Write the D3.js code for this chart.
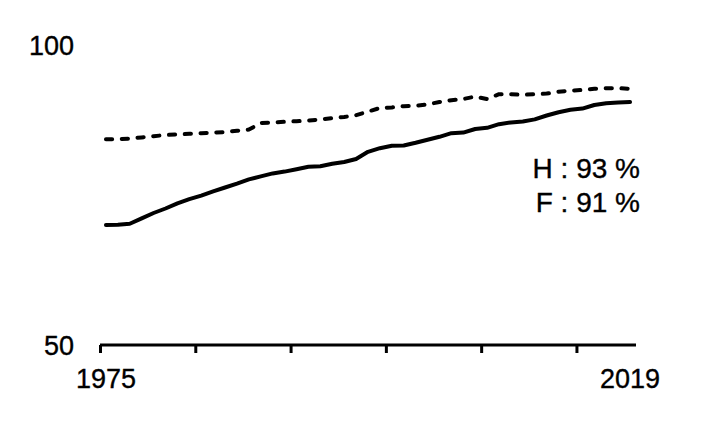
<!DOCTYPE html>
<html>
<head>
<meta charset="utf-8">
<script src="https://cdn.jsdelivr.net/npm/d3@7"></script>
<style>
  html, body { margin: 0; padding: 0; background: #fff; }
  svg { display: block; }
  text { font-family: "Liberation Sans", Arial, sans-serif; fill: #000; stroke: #000; stroke-width: 0.35px; }
</style>
</head>
<body>
<svg id="chart" width="708" height="423"></svg>
<script>
const years = d3.range(1975, 2020);
// H (hommes) - dashed
const menValues = [84.3, 84.3, 84.4, 84.6, 84.8, 85.0, 85.1, 85.2, 85.3, 85.4,
  85.5, 85.7, 85.9, 87.0, 87.1, 87.2, 87.3, 87.4, 87.6, 87.8,
  88.0, 88.3, 88.9, 89.5, 89.6, 89.8, 89.85, 90.1, 90.5, 90.8,
  91.0, 91.4, 91.0, 91.8, 91.8, 91.7, 91.8, 91.9, 92.2, 92.4,
  92.5, 92.7, 92.8, 92.8, 92.7];
// F (femmes) - solid
const womenValues = [70.0, 70.05, 70.2, 71.1, 72.0, 72.75, 73.6, 74.3, 74.9, 75.6,
  76.25, 76.9, 77.6, 78.1, 78.6, 78.9, 79.3, 79.7, 79.8, 80.2,
  80.5, 81.0, 82.2, 82.8, 83.2, 83.25, 83.7, 84.2, 84.7, 85.3,
  85.4, 86.0, 86.2, 86.8, 87.1, 87.25, 87.6, 88.25, 88.8, 89.2,
  89.4, 90.0, 90.3, 90.4, 90.5];
const yTickLabels = [50, 100];
const xTickLabels = [1975, 2019];
const tickEvery = 8;
const notes = ["H : 93 %", "F : 91 %"];

const svg = d3.select("#chart");

const x = d3.scaleBand().domain(years).range([100, 636]).paddingInner(0).paddingOuter(0);
const xc = d => x(d) + x.bandwidth() / 2;
const y = d3.scaleLinear().domain([50, 100]).range([345, 45]);

// x axis (ticks at category boundaries, every 8 categories)
const xIdx = d3.scaleLinear().domain([0, years.length]).range(x.range());
const axis = d3.axisBottom(xIdx)
  .tickValues(d3.range(0, years.length, tickEvery))
  .tickSizeInner(8).tickSizeOuter(0).tickFormat("");
const gx = svg.append("g").attr("transform", `translate(0,${y(50)})`).call(axis);
gx.select(".domain").attr("stroke", "#000").attr("stroke-width", 3)
  .attr("d", `M${xIdx(0)},0H${xIdx(years.length)}`);
gx.selectAll(".tick line").attr("stroke", "#000").attr("stroke-width", 3);

// x labels
svg.append("g").selectAll("text").data(xTickLabels).join("text")
  .attr("x", d => xc(d)).attr("y", 388)
  .attr("text-anchor", "middle").attr("font-size", 27)
  .text(d => d);

// y labels
svg.append("g").selectAll("text").data(yTickLabels).join("text")
  .attr("x", 74).attr("y", d => y(d) + 9.5)
  .attr("text-anchor", "end").attr("font-size", 27)
  .text(d => d);

const line = d3.line().x((d, i) => xc(years[i])).y(d => y(d)).curve(d3.curveLinear);

svg.append("path").datum(womenValues)
  .attr("d", line).attr("fill", "none").attr("stroke", "#000")
  .attr("stroke-width", 4).attr("stroke-linejoin", "round").attr("stroke-linecap", "round");

svg.append("path").datum(menValues)
  .attr("d", line).attr("fill", "none").attr("stroke", "#000")
  .attr("stroke-width", 4).attr("stroke-dasharray", "6.2,9.6")
  .attr("stroke-linejoin", "round").attr("stroke-linecap", "round");

// notes
svg.append("g").selectAll("text").data(notes).join("text")
  .attr("x", 640).attr("y", (d, i) => 178 + i * 34)
  .attr("text-anchor", "end").attr("font-size", 28)
  .text(d => d);
</script>
</body>
</html>
